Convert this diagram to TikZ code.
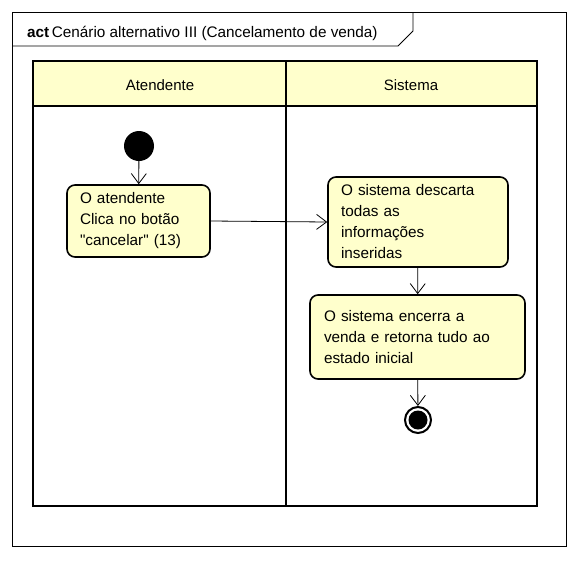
\documentclass[tikz,border=0pt]{standalone}
\usepackage{fontspec}
\setmainfont{Liberation Sans}[Ligatures=TeXOff]
\usetikzlibrary{arrows.meta}
\definecolor{actfill}{HTML}{FFFFCC}
\begin{document}
\begin{tikzpicture}[x=1pt,y=-1pt,
  action/.style={draw, line width=1.6pt, fill=actfill, rounded corners=8pt, align=left,
    inner xsep=13pt, inner ysep=0pt, font=\fontsize{15.3}{21}\selectfont},
  lanelabel/.style={font=\fontsize{15}{18}\selectfont},
  flow/.style={line width=0.8pt, -{Straight Barb[length=10pt,width=15pt,line width=0.8pt]}},
  frameline/.style={line width=0.8pt},
  laneline/.style={line width=2pt}]
\useasboundingbox (0,0) rectangle (576,560);
% frame
\draw[frameline] (12,12) rectangle (566,546);
\draw[frameline] (12,46) -- (398,46) -- (413,31) -- (413,12);
\node[anchor=base west, inner sep=0pt, font=\fontsize{15.3}{18}\selectfont] (title) at (27,37) {\textbf{act}\,Cenário alternativo III (Cancelamento de venda)};
% swimlanes
\draw[laneline, fill=actfill] (33,61) rectangle (537,106);
\draw[laneline] (33,61) rectangle (537,506);
\draw[laneline] (286,61) -- (286,506);
\node[lanelabel] (lane1) at (160,85) {Atendente};
\node[lanelabel] (lane2) at (411,85) {Sistema};
% nodes
\node[circle, fill=black, minimum size=30pt, inner sep=0pt] (init) at (139,146) {};
\node[action, minimum width=143pt, minimum height=72pt, text width=117pt] (a1) at (138.5,221)
  {O atendente\\Clica no botão\\"cancelar" (13)};
\node[action, minimum width=180pt, minimum height=90pt, text width=154pt] (a2) at (418,222)
  {O sistema descarta\\todas as\\informações\\inseridas};
\node[action, minimum width=215pt, minimum height=84pt, text width=187pt, inner xsep=14pt] (a3) at (417.5,337)
  {O sistema encerra a\\venda e retorna tudo ao\\estado inicial};
\node[circle, draw, line width=2pt, fill=white, minimum size=26pt, inner sep=0pt] (fin) at (418,420) {};
\fill (fin.center) circle (9.5);
% flows
\draw[flow] (init) -- (a1);
\draw[flow] (a1.east) -- (a2.west);
\draw[flow] (a2) -- (a3);
\draw[flow] (a3) -- (fin);
\end{tikzpicture}
\end{document}
